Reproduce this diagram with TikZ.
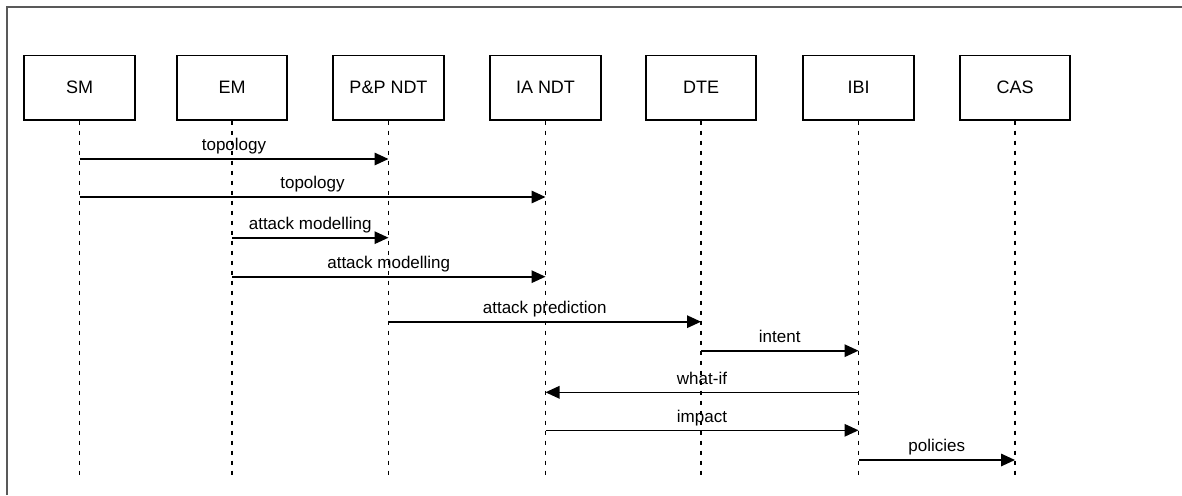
\documentclass[tikz,border=0pt]{standalone}
\usepackage{fontspec}
\setmainfont{Liberation Sans}
\usetikzlibrary{arrows.meta}
\begin{document}
\begin{tikzpicture}[x=1pt,y=-1pt,
  frameline/.style={draw=black!65, line width=1.3pt},
  actor/.style={draw=black, line width=1.6pt, minimum width=110.5pt,
    minimum height=64pt, inner sep=0pt, font=\fontsize{18}{21}\selectfont},
  lifeline/.style={draw=black, line width=1.4pt, dash pattern=on 4.5pt off 5.5pt},
  msg/.style={draw=black, line width=1.6pt, -{Triangle[length=14pt,width=12.5pt]}},
  lbl/.style={font=\fontsize{17}{20}\selectfont, anchor=base, inner sep=0pt, yshift=8.3pt}]
\useasboundingbox (0,0) rectangle (1182,495);

% outer frame (top and left edges)
\draw[frameline] (7,495) -- (7,7) -- (1182,7);

% participants
\node[actor] (sm)    at (79.5,87.7)  {SM};
\node[actor] (em)    at (232,87.7)   {EM};
\node[actor] (ppndt) at (388.5,87.7) {P\&P NDT};
\node[actor] (iandt) at (545.5,87.7) {IA NDT};
\node[actor] (dte)   at (701,87.7)   {DTE};
\node[actor] (ibi)   at (858.5,87.7) {IBI};
\node[actor] (cas)   at (1015,87.7)  {CAS};

% lifelines
\coordinate (bottom) at (0,480);
\foreach \p in {sm,em,ppndt,iandt,dte,ibi,cas}
  \draw[lifeline] (\p.south) -- (\p.south |- bottom);

% message rows
\coordinate (m1) at (0,159);
\coordinate (m2) at (0,197);
\coordinate (m3) at (0,237.7);
\coordinate (m4) at (0,276.7);
\coordinate (m5) at (0,321.7);
\coordinate (m6) at (0,350.7);
\coordinate (m7) at (0,392.3);
\coordinate (m8) at (0,430.3);
\coordinate (m9) at (0,460);

% messages
\draw[msg] (sm |- m1) -- node[lbl] {topology} (ppndt |- m1);
\draw[msg] (sm |- m2) -- node[lbl] {topology} (iandt |- m2);
\draw[msg] (em |- m3) -- node[lbl] {attack modelling} (ppndt |- m3);
\draw[msg] (em |- m4) -- node[lbl] {attack modelling} (iandt |- m4);
\draw[msg] (ppndt |- m5) -- node[lbl] {attack prediction} (dte |- m5);
\draw[msg] (dte |- m6) -- node[lbl] {intent} (ibi |- m6);
\draw[msg] (ibi |- m7) -- node[lbl] {what-if} (iandt |- m7);
\draw[msg] (iandt |- m8) -- node[lbl] {impact} (ibi |- m8);
\draw[msg] (ibi |- m9) -- node[lbl] {policies} (cas |- m9);
\end{tikzpicture}
\end{document}
